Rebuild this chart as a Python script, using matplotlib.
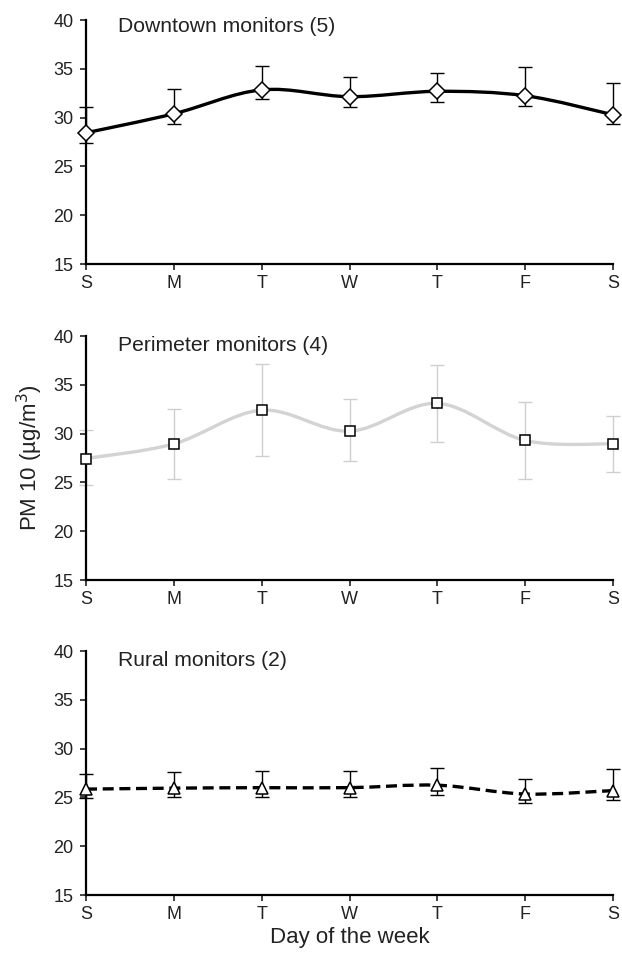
import matplotlib
matplotlib.use("Agg")
import matplotlib.pyplot as plt
import numpy as np
from matplotlib.path import Path
from matplotlib.patches import PathPatch

plt.rcParams['font.family'] = ['Liberation Sans', 'DejaVu Sans']

days = ["S", "M", "T", "W", "T", "F", "S"]

downtown = [28.45, 30.4, 32.85, 32.15, 32.7, 32.25, 30.3]
downtown_hi = [31.1, 32.9, 35.3, 34.15, 34.6, 35.15, 33.55]
downtown_lo = [27.4, 29.35, 31.9, 31.1, 31.65, 31.2, 29.3]

perimeter = [27.45, 28.95, 32.4, 30.25, 33.1, 29.3, 28.95]
perimeter_hi = [30.4, 32.5, 37.1, 33.5, 37.05, 33.25, 31.8]
perimeter_lo = [24.7, 25.4, 27.7, 27.2, 29.1, 25.4, 26.1]

rural = [25.85, 25.95, 26.0, 26.0, 26.25, 25.35, 25.7]
rural_hi = [27.45, 27.6, 27.7, 27.7, 28.05, 26.85, 27.9]
rural_lo = [24.9, 25.0, 25.05, 25.05, 25.2, 24.4, 24.7]


def smooth_path(x, y):
    # Excel-style smoothed line: cubic Bezier through each point
    pts = np.column_stack([x, y]).astype(float)
    p = np.vstack([pts[0], pts, pts[-1]])
    verts = [tuple(pts[0])]
    codes = [Path.MOVETO]
    for i in range(1, len(p) - 2):
        c1 = p[i] + (p[i + 1] - p[i - 1]) / 6.0
        c2 = p[i + 1] - (p[i + 2] - p[i]) / 6.0
        verts += [tuple(c1), tuple(c2), tuple(p[i + 1])]
        codes += [Path.CURVE4] * 3
    return Path(verts, codes)


fig = plt.figure(figsize=(6.22, 9.56), dpi=100)
left, width, h = 0.1383, 0.8472, 0.2552
bottoms = [0.7238, 0.3933, 0.0638]

panels = [
    ("Downtown monitors (5)", downtown, downtown_hi, downtown_lo,
     dict(color="black", ls="-"), "black", "D", 8.0, 0.975),
    ("Perimeter monitors (4)", perimeter, perimeter_hi, perimeter_lo,
     dict(color="#d3d3d3", ls="-"), "#cfcfcf", "s", 7.5, 0.963),
    ("Rural monitors (2)", rural, rural_hi, rural_lo,
     dict(color="black", ls=(0, (3.3, 1.7))), "black", "^", 8.5, 0.963),
]

x = np.arange(len(days))
axes = []
for (title, vals, hi, lo, lstyle, ecol, mk, ms, ty), b in zip(panels, bottoms):
    ax = fig.add_axes([left, b, width, h])
    axes.append(ax)
    vals = np.array(vals)
    yerr = [vals - np.array(lo), np.array(hi) - vals]
    eb = ax.errorbar(x, vals, yerr=yerr, fmt="none", ecolor=ecol,
                     elinewidth=1.0, capsize=5, capthick=1.0, zorder=2)
    for art in eb.lines[1] + eb.lines[2]:
        art.set_clip_on(False)
    ax.add_patch(PathPatch(smooth_path(x, vals), fill=False,
                           edgecolor=lstyle["color"], linestyle=lstyle["ls"],
                           lw=2.4, zorder=3, clip_on=False))
    ax.plot(x, vals, linestyle="none", marker=mk, ms=ms, mfc="white",
            mec="black", mew=1.1, zorder=4, clip_on=False)
    ax.text(0.061, ty, title, transform=ax.transAxes, fontsize=15.2,
            va="center", ha="left", color="#222222")

    ax.set_xlim(0, 6)
    ax.set_ylim(15, 40)
    ax.set_yticks(range(15, 41, 5))
    ax.set_xticks(x)
    ax.set_xticklabels(days)
    for s in ["top", "right"]:
        ax.spines[s].set_visible(False)
    for s in ["left", "bottom"]:
        ax.spines[s].set_linewidth(1.6)
    ax.tick_params(direction="out", length=4, width=1.2, labelsize=13,
                   pad=5, colors="#222222")
    ax.tick_params(axis="x", pad=4)

axes[1].set_ylabel("PM 10 (µg/m$^3$)", fontsize=16, labelpad=6,
                   color="#222222")
axes[2].set_xlabel("Day of the week", fontsize=16, labelpad=3,
                   color="#222222")

fig.savefig("out.png", dpi=100)
